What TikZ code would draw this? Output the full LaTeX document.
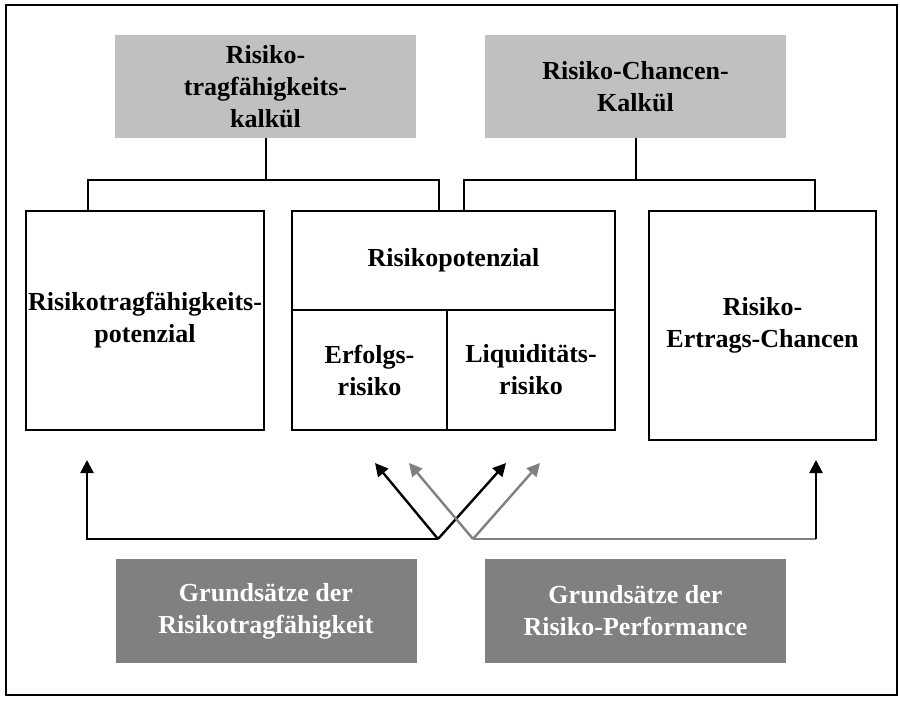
\documentclass[tikz,border=0pt]{standalone}
\usepackage{fontspec}
\setmainfont{Liberation Serif}
\usetikzlibrary{arrows.meta,positioning,calc}
\definecolor{hellgrau}{RGB}{192,192,192}
\definecolor{dunkelgrau}{RGB}{128,128,128}

\begin{document}
\begin{tikzpicture}[
    x=1pt, y=-1pt,
    txt/.style = {inner sep=0pt, align=center, font=\bfseries\fontsize{26}{32}\selectfont},
    box/.style = {txt, rectangle, draw, line width=2.2pt},
    kalkbox/.style = {txt, rectangle, fill=hellgrau, minimum width=301pt, minimum height=103pt},
    grundbox/.style = {txt, rectangle, fill=dunkelgrau, text=white, minimum width=301pt, minimum height=104pt},
    verb/.style = {draw, line width=2pt},
    pfeil/.style = {draw, line width=2.4pt, -{Triangle[length=13pt,width=13pt]}}
]
\useasboundingbox (0,0) rectangle (900,701);
\draw[line width=2.4pt] (6,5) rectangle (897,695);

% Kalkuele
\node[kalkbox] (rtk) at (265.5,86.5) {Risiko-\\tragfähigkeits-\\kalkül};
\node[kalkbox] (rck) at (635.5,86.5) {Risiko-Chancen-\\Kalkül};

% Potenziale
\node[box, minimum width=238pt, minimum height=219pt] (rtp) at (145,320.5) {Risikotragfähigkeits-\\potenzial};
\node[box, minimum width=323pt, minimum height=99pt] (rp) at (453.5,260.5) {Risikopotenzial};
\node[box, minimum width=155pt, minimum height=120pt] (erf) at (369.5,370) {Erfolgs-\\risiko};
\node[box, minimum width=168pt, minimum height=120pt] (liq) at (531,370) {Liquiditäts-\\risiko};
\node[box, minimum width=227pt, minimum height=229pt] (rec) at (762.5,325.5) {Risiko-\\Ertrags-Chancen};

% Grundsaetze
\node[grundbox] (gsa) at (266,611) {Grundsätze der\\Risikotragfähigkeit};
\node[grundbox] (gsb) at (635.5,611) {Grundsätze der\\Risiko-Performance};

% Klammern
\coordinate (kla) at (88,180);
\coordinate (klb) at (439,180);
\coordinate (klc) at (464,180);
\coordinate (kld) at (815,180);
\path[verb] (rtk) -- (rtk |- kla);
\path[verb] (rtp.north -| kla) -- (kla) -- (klb) -- (rp.north -| klb);
\path[verb] (rck) -- (rck |- klc);
\path[verb] (rp.north -| klc) -- (klc) -- (kld) -- (rec.north -| kld);

% Pfeile
\coordinate (va) at (438,539);
\coordinate (vb) at (473,539);
\coordinate (eckb) at (816,539);
\coordinate (za) at (87,460);
\coordinate (zb) at (375,463);
\coordinate (zc) at (506,463);
\coordinate (zd) at (409,463);
\coordinate (ze) at (540,463);
\coordinate (zf) at (816,460);
\path[pfeil] (va) -| (za);
\path[pfeil] (va) -- (zb);
\path[pfeil] (va) -- (zc);
\path[verb, line width=2.4pt, dunkelgrau] (vb) -- (eckb);
\path[pfeil] (eckb) -- (zf);
\path[pfeil, dunkelgrau] (vb) -- (zd);
\path[pfeil, dunkelgrau] (vb) -- (ze);
\end{tikzpicture}
\end{document}
